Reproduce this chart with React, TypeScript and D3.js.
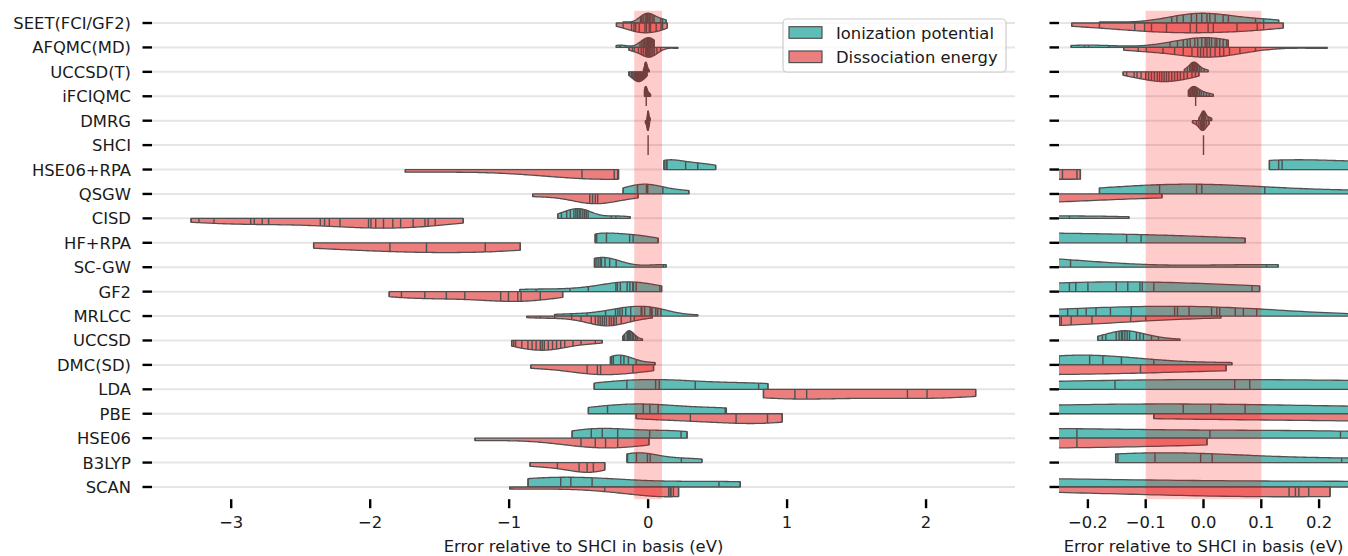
import React from "react";
import * as d3 from "d3";

const methods = [
  "SEET(FCI/GF2)", "AFQMC(MD)", "UCCSD(T)", "iFCIQMC", "DMRG", "SHCI", "HSE06+RPA", "QSGW",
  "CISD", "HF+RPA", "SC-GW", "GF2", "MRLCC", "UCCSD", "DMC(SD)", "LDA", "PBE", "HSE06", "B3LYP", "SCAN",
];

// Ionization potential errors (eV), one list per method
const ipValues: number[][] = [
  [-0.18, -0.055, -0.046, -0.035, -0.021, -0.012, -0.003, 0.006, 0.011, 0.02, 0.034, 0.043, 0.09, 0.104, 0.13],
  [-0.229, -0.206, -0.199, -0.163, -0.058, -0.045, -0.035, -0.028, -0.023, -0.015, -0.01, -0.003, 0.003, 0.006, 0.01, 0.014, 0.02, 0.023, 0.028, 0.034, 0.04, 0.043],
  [-0.033, -0.028, -0.024, -0.022, -0.02, -0.019, -0.018, -0.017, -0.016, -0.015, -0.013, -0.012, -0.01, -0.007, -0.004, 0.001, 0.008],
  [-0.026, -0.024, -0.022, -0.02, -0.019, -0.018, -0.017, -0.016, -0.014, -0.012, -0.01, -0.007, -0.004, 0.0, 0.005, 0.01, 0.017],
  [-0.008, -0.004, -0.002, -0.001, -0.0005, 0.0, 0.0005, 0.001, 0.002, 0.004, 0.008, 0.011, 0.014],
  [0],
  [0.114, 0.13, 0.136, 0.27, 0.357, 0.486],
  [-0.18, -0.076, -0.012, -0.003, 0.106, 0.293],
  [-0.65, -0.624, -0.586, -0.56, -0.534, -0.52, -0.509, -0.496, -0.485, -0.47, -0.457, -0.445, -0.432, -0.265, -0.232, -0.129],
  [-0.381, -0.37, -0.3, -0.133, -0.108, 0.072],
  [-0.386, -0.375, -0.36, -0.345, -0.336, -0.31, -0.277, -0.23, 0.109, 0.129],
  [-0.923, -0.806, -0.562, -0.43, -0.232, -0.221, -0.2, -0.151, -0.131, -0.11, -0.106, -0.086, 0.084, 0.097],
  [-0.673, -0.55, -0.44, -0.306, -0.235, -0.218, -0.203, -0.186, -0.161, -0.125, -0.05, -0.045, -0.025, 0.014, 0.023, 0.028, 0.055, 0.069, 0.092, 0.357],
  [-0.183, -0.175, -0.169, -0.151, -0.146, -0.142, -0.14, -0.136, -0.132, -0.128, -0.116, -0.11, -0.104, -0.09, -0.078, -0.041],
  [-0.271, -0.262, -0.25, -0.197, -0.174, -0.142, -0.086, 0.049],
  [-0.388, -0.153, 0.054, 0.08, 0.339, 0.795, 0.862],
  [-0.43, -0.292, -0.035, 0.0125, 0.072, 0.554, 0.563],
  [-0.547, -0.409, -0.33, -0.219, 0.011, 0.237, 0.28],
  [-0.152, -0.148, -0.084, -0.005, 0.015, 0.239, 0.387],
  [-0.864, -0.629, -0.556, -0.403, 0.51, 0.663],
];

// Dissociation energy errors (eV), one list per method
const deValues: number[][] = [
  [-0.228, -0.18, -0.119, -0.102, -0.09, -0.064, -0.023, -0.012, 0.008, 0.017, 0.058, 0.093, 0.104, 0.138],
  [-0.138, -0.113, -0.099, -0.07, -0.05, -0.035, -0.02, -0.01, -0.005, 0.0, 0.006, 0.012, 0.02, 0.028, 0.035, 0.045, 0.063, 0.09, 0.214],
  [-0.139, -0.133, -0.12, -0.115, -0.108, -0.1, -0.095, -0.09, -0.085, -0.08, -0.076, -0.072, -0.068, -0.064, -0.06, -0.055, -0.05, -0.045, -0.04, -0.034, -0.028, -0.02, -0.014, -0.008],
  [-0.0136],
  [-0.019, -0.012, -0.008, -0.005, -0.003, -0.002, -0.001, 0.0, 0.002, 0.005, 0.0096],
  [0],
  [-1.747, -0.476, -0.244, -0.219, -0.213],
  [-0.83, -0.42, -0.4, -0.38, -0.363, -0.072],
  [-3.289, -3.232, -3.124, -2.86, -2.834, -2.777, -2.731, -2.359, -2.328, -2.294, -2.217, -2.012, -1.994, -1.96, -1.904, -1.837, -1.781, -1.691, -1.606, -1.583, -1.532, -1.331],
  [-2.407, -1.858, -1.595, -1.172, -0.92],
  [],
  [-1.863, -1.775, -1.607, -1.452, -1.319, -1.061, -1.005, -0.938, -0.914, -0.776, -0.615],
  [-0.873, -0.776, -0.673, -0.55, -0.483, -0.409, -0.38, -0.36, -0.345, -0.33, -0.315, -0.3, -0.28, -0.265, -0.249, -0.246, -0.229, -0.193, -0.126, -0.1, 0.03],
  [-0.982, -0.967, -0.953, -0.909, -0.865, -0.835, -0.806, -0.776, -0.762, -0.747, -0.718, -0.688, -0.659, -0.629, -0.6, -0.541, -0.483, -0.38, -0.33],
  [-0.844, -0.439, -0.365, -0.342, -0.109, 0.039],
  [0.83, 1.056, 1.141, 1.866, 2.007, 2.357],
  [-0.086, 0.304, 0.633, 0.859, 0.965],
  [-1.246, -0.483, -0.38, -0.306, -0.219, 0.006],
  [-0.85, -0.653, -0.497, -0.439, -0.394, -0.312],
  [-0.996, -0.312, 0.148, 0.159, 0.165, 0.182, 0.219],
];

const seriesNames = ["Ionization potential", "Dissociation energy"];
const seriesColors = ["#5EBDB6", "#ED7E7E"];
const leftTicks = [-3, -2, -1, 0, 1, 2];
const rightTicks = [-0.2, -0.1, 0.0, 0.1, 0.2];
const leftDomain: [number, number] = [-3.57, 2.64];
const rightDomain: [number, number] = [-0.25, 0.25];
const accuracyBand: [number, number] = [-0.1, 0.1];
const xTitle = "Error relative to SHCI in basis (eV)";

const W = 1348;
const H = 556;
const FONT = "DejaVu Sans";
const FS = 16.4;
const EDGE = "#505050";
const TEXT = "#1a1a1a";

type Half =
  | { kind: "single"; value: number }
  | { kind: "kde"; grid: number[]; dens: number[]; sticks: [number, number][] };

function halfViolin(values: number[]): Half | null {
  if (!values.length) return null;
  if (new Set(values).size === 1) return { kind: "single", value: values[0] };
  const n = values.length;
  const sd = d3.deviation(values) as number;
  const bw = sd * Math.pow(n, -0.2);
  const [lo, hi] = d3.extent(values) as [number, number];
  const grid = d3.range(100).map((i) => lo + ((hi - lo) * i) / 99);
  const raw = grid.map((x) => d3.sum(values, (v) => Math.exp(-0.5 * ((x - v) / bw) ** 2)));
  const mx = d3.max(raw) as number;
  const dens = raw.map((r) => r / mx);
  const interp = d3.scaleLinear().domain(grid).range(dens).clamp(true);
  const sticks = values.map((v) => [v, interp(v)] as [number, number]);
  return { kind: "kde", grid, dens, sticks };
}

const halves = methods.map((_, i) => [halfViolin(ipValues[i]), halfViolin(deValues[i])]);

const yScale = d3.scalePoint<string>().domain(methods).range([10.8, 499.2]).padding(0.5);
const HW = 0.4 * yScale.step();
const Y0 = 10.8;
const Y1 = 499.2;

function fmtTick(v: number, decimals: number) {
  const s = Math.abs(v).toFixed(decimals);
  return (v < 0 ? "\u2212" : "") + s;
}

function Panel(props: {
  x: d3.ScaleLinear<number, number>;
  id: string;
  ticks: number[];
  decimals: number;
  labels: boolean;
}) {
  const { x, id, ticks, decimals, labels } = props;
  const [r0, r1] = x.range();
  return (
    <g>
      <defs>
        <clipPath id={id}>
          <rect x={r0} y={Y0} width={r1 - r0} height={Y1 - Y0} />
        </clipPath>
      </defs>
      {methods.map((m) => (
        <line key={"g" + m} x1={r0} x2={r1} y1={yScale(m)} y2={yScale(m)} stroke="#e5e5e5" strokeWidth={2} />
      ))}
      <g clipPath={`url(#${id})`}>
        {methods.map((m, i) => {
          const yc = yScale(m) as number;
          return (
            <g key={"v" + m}>
              {halves[i].map((h, j) => {
                if (!h) return null;
                const side = j === 0 ? -1 : 1;
                if (h.kind === "single") {
                  return (
                    <line key={j} x1={x(h.value)} x2={x(h.value)} y1={yc} y2={yc + side * HW} stroke={EDGE} strokeWidth={1.4} />
                  );
                }
                const area = d3
                  .area<number>()
                  .x((g) => x(g))
                  .y0(yc)
                  .y1((_, k) => yc + side * h.dens[k] * HW);
                return (
                  <g key={j}>
                    <path d={area(h.grid) as string} fill={seriesColors[j]} stroke={EDGE} strokeWidth={1.3} strokeLinejoin="round" />
                    {h.sticks.map(([v, d], k) => (
                      <line key={k} x1={x(v)} x2={x(v)} y1={yc} y2={yc + side * d * HW} stroke={EDGE} strokeWidth={1.4} />
                    ))}
                  </g>
                );
              })}
            </g>
          );
        })}
      </g>
      <rect
        x={x(accuracyBand[0])}
        y={Y0}
        width={x(accuracyBand[1]) - x(accuracyBand[0])}
        height={Y1 - Y0}
        fill="red"
        fillOpacity={0.2}
      />
      {methods.map((m) => (
        <line key={"t" + m} x1={r0 - 9.5} x2={r0} y1={yScale(m)} y2={yScale(m)} stroke="#000" strokeWidth={2.4} />
      ))}
      {labels &&
        methods.map((m) => (
          <text key={"l" + m} x={131} y={(yScale(m) as number) + 6} textAnchor="end" fontFamily={FONT} fontSize={FS} fill={TEXT}>
            {m}
          </text>
        ))}
      {ticks.map((t) => (
        <g key={"x" + t}>
          <line x1={x(t)} x2={x(t)} y1={Y1} y2={Y1 + 9} stroke="#000" strokeWidth={2.4} />
          <text x={x(t)} y={528} textAnchor="middle" fontFamily={FONT} fontSize={FS} fill={TEXT}>
            {fmtTick(t, decimals)}
          </text>
        </g>
      ))}
      <text x={(r0 + r1) / 2} y={552} textAnchor="middle" fontFamily={FONT} fontSize={FS} fill={TEXT}>
        {xTitle}
      </text>
    </g>
  );
}

export default function App() {
  const xLeft = d3.scaleLinear().domain(leftDomain).range([152, 1015]);
  const xRight = d3.scaleLinear().domain(rightDomain).range([1059, 1348]);
  return (
    <svg width={W} height={H} style={{ position: "absolute", left: 0, top: 0, background: "#fff" }}>
      <rect width={W} height={H} fill="#fff" />
      <Panel x={xLeft} id="clipL" ticks={leftTicks} decimals={0} labels={true} />
      <Panel x={xRight} id="clipR" ticks={rightTicks} decimals={1} labels={false} />
      <g>
        <rect x={783} y={19} width={223} height={53} rx={4} fill="#fff" fillOpacity={0.8} stroke="#cccccc" strokeWidth={1.2} />
        {seriesNames.map((s, i) => (
          <g key={s}>
            <rect x={789} y={26.7 + i * 24.3} width={33} height={11.6} fill={seriesColors[i]} stroke={EDGE} strokeWidth={1.2} />
            <text x={836} y={38.6 + i * 24.1} fontFamily={FONT} fontSize={FS} fill={TEXT}>
              {s}
            </text>
          </g>
        ))}
      </g>
    </svg>
  );
}
